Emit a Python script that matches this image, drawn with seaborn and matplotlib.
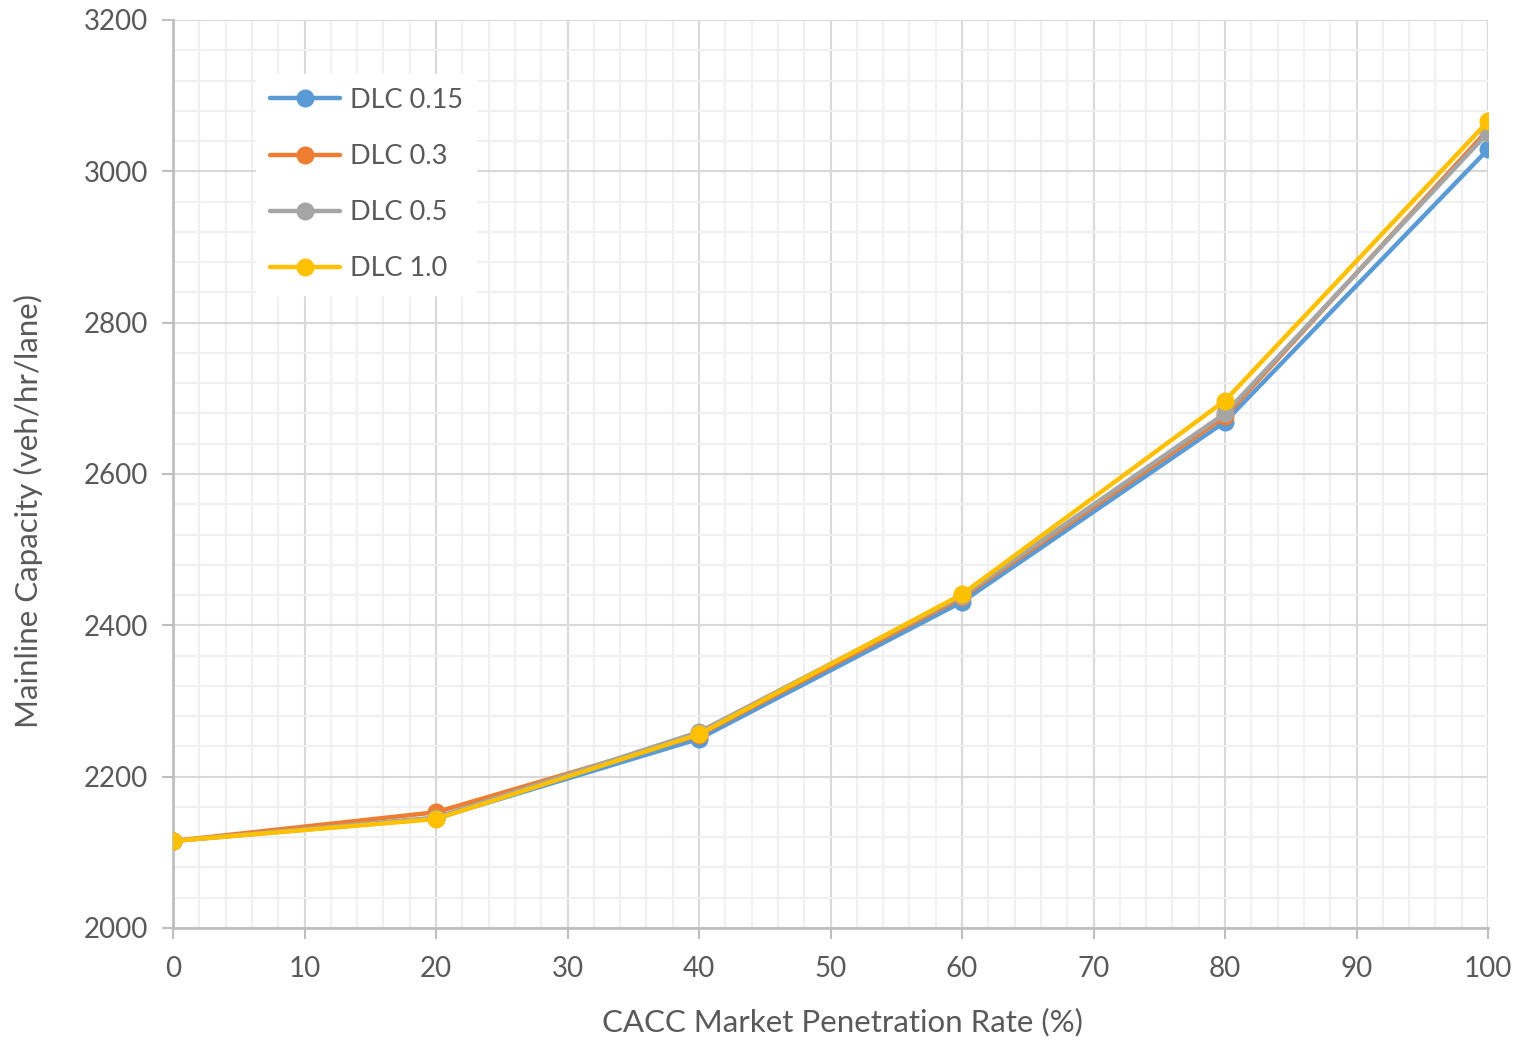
import matplotlib
matplotlib.use("Agg")
import matplotlib.pyplot as plt
from matplotlib.ticker import MultipleLocator
import seaborn as sns
import pandas as pd

penetration = [0, 20, 40, 60, 80, 100]
dlc_015 = [2115, 2145, 2250, 2431, 2669, 3029]
dlc_03 = [2115, 2153, 2255, 2437, 2676, 3055]
dlc_05 = [2115, 2146, 2259, 2439, 2680, 3051]
dlc_10 = [2115, 2144, 2256, 2441, 2697, 3066]
series_names = ["DLC 0.15", "DLC 0.3", "DLC 0.5", "DLC 1.0"]
colors = ["#5B9BD5", "#ED7D31", "#A5A5A5", "#FFC000"]
x_ticks = list(range(0, 101, 10))
y_ticks = list(range(2000, 3201, 200))

rows = []
for name, vals in zip(series_names, [dlc_015, dlc_03, dlc_05, dlc_10]):
    for x, y in zip(penetration, vals):
        rows.append({"x": x, "y": y, "series": name})
df = pd.DataFrame(rows)

sns.set_theme(style="white")
plt.rcParams["font.family"] = ["Lato", "DejaVu Sans"]

fig = plt.figure(figsize=(15.15, 10.4), dpi=100)
ax = fig.add_axes([173 / 1515, 1 - 928 / 1040, (1488 - 173) / 1515, (928 - 20) / 1040])

sns.lineplot(data=df, x="x", y="y", hue="series", hue_order=series_names,
             palette=colors, marker="o", markersize=13, markeredgewidth=0,
             linewidth=3.2, ax=ax, zorder=3)

ax.set_xlim(0, 100)
ax.set_ylim(2000, 3200)
ax.set_xticks(x_ticks)
ax.set_yticks(y_ticks)
ax.xaxis.set_minor_locator(MultipleLocator(2))
ax.yaxis.set_minor_locator(MultipleLocator(40))
ax.grid(which="major", color="#D9D9D9", linewidth=1.5, zorder=0)
ax.grid(which="minor", color="#F0F0F0", linewidth=1.5, zorder=0)
ax.set_axisbelow(True)

for s in ["top", "right"]:
    ax.spines[s].set_visible(False)
for s in ["left", "bottom"]:
    ax.spines[s].set_color("#BFBFBF")
    ax.spines[s].set_linewidth(2)
ax.tick_params(which="major", direction="out", length=8, width=1.5, color="#BFBFBF",
               labelsize=20, labelcolor="#595959", left=True, bottom=True)
ax.tick_params(axis="x", which="major", pad=12)
ax.tick_params(axis="y", which="major", pad=10)
ax.tick_params(which="minor", length=0)

ax.set_xlabel("")
ax.set_ylabel("")
fig.text(842 / 1515, 1 - 1022 / 1040, "CACC Market Penetration Rate (%)",
         ha="center", va="center", fontsize=22.5, color="#595959")
fig.text(28 / 1515, 1 - 511 / 1040, "Mainline Capacity (veh/hr/lane)",
         ha="center", va="center", rotation=90, fontsize=22.5, color="#595959")

leg = ax.legend(loc="upper left", bbox_to_anchor=(0.053, 0.955), frameon=True,
                fontsize=19.5, handlelength=2.6, labelspacing=1.15, borderpad=0.5,
                handletextpad=0.35)
leg.get_frame().set_edgecolor("white")
leg.get_frame().set_facecolor("white")
leg.get_frame().set_alpha(1)
for t in leg.get_texts():
    t.set_color("#595959")

fig.savefig("out.png", dpi=100, facecolor="white")
